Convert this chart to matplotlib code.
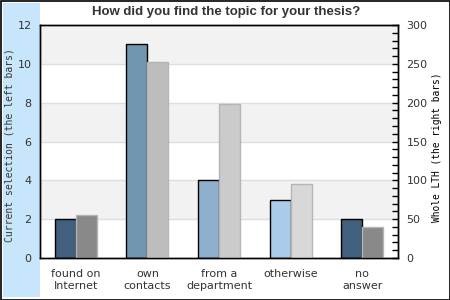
import matplotlib
matplotlib.use("Agg")
import matplotlib.pyplot as plt
import numpy as np
from matplotlib.patches import Rectangle
from matplotlib.ticker import MultipleLocator

categories = ["found on\nInternet", "own\ncontacts", "from a\ndepartment", "otherwise", "no\nanswer"]
current_selection = [2, 11, 4, 3, 2]
whole_lth = [55, 253, 198, 95, 40]
left_colors = ["#41607d", "#7396b0", "#8fb0cc", "#abcce8", "#41607d"]
right_colors = ["#898989", "#bdbdbd", "#cbcbcb", "#d8d8d8", "#898989"]

W, H = 450, 300
fig = plt.figure(figsize=(4.5, 3.0), dpi=100)
fig.patch.set_facecolor("white")
# left blue band and border
fig.add_artist(Rectangle((3/W, 3/H), 37/W, 294/H, transform=fig.transFigure,
                         facecolor="#c8e6fb", edgecolor="none", zorder=0))
fig.add_artist(Rectangle((0.5/W, 0.5/H), 449/W, 299/H, transform=fig.transFigure,
                         facecolor="none", edgecolor="black", lw=1.2, zorder=10))

ax = fig.add_axes([40/W, 42/H, 358/W, 233/H])
ax.set_facecolor("white")
ax.set_ylim(0, 12)
ax.set_xlim(-0.5, len(categories) - 0.5)
for lo in range(2, 12, 4):
    ax.axhspan(lo, lo + 2, color="#f2f2f2", zorder=0, lw=0)
for y in range(2, 12, 2):
    ax.axhline(y, color="#dedede", lw=1, zorder=0.5)

x = np.arange(len(categories))
w = 0.293
ax.bar(x - w/2, current_selection, width=w, color=left_colors, edgecolor="black", lw=1, zorder=2)
ax.set_yticks(range(0, 13, 2))
ax.tick_params(axis="y", length=0, pad=6, labelsize=8, labelcolor="#333333")
ax.set_xticks(x)
ax.set_xticklabels(categories, fontsize=8, color="#333333", linespacing=1.2)
ax.tick_params(axis="x", length=0, pad=8)
for s in ax.spines.values():
    s.set_linewidth(1)
    s.set_color("black")

ax2 = ax.twinx()
ax2.set_ylim(0, 300)
ax2.bar(x + w/2, whole_lth, width=w, color=right_colors, edgecolor="#b5b5b5", lw=1, zorder=2)
ax2.yaxis.set_major_locator(MultipleLocator(50))
ax2.yaxis.set_minor_locator(MultipleLocator(10))
ax2.tick_params(axis="y", which="both", direction="in", length=4, width=1, pad=6,
                labelsize=8, labelcolor="#333333")
for s in ax2.spines.values():
    s.set_linewidth(1)

fig.text(10/W, 1 - 145/H, "Current selection (the left bars)", rotation=90, ha="center", va="center",
         family="DejaVu Sans Mono", fontsize=7.0, color="#333333")
fig.text(437/W, 1 - 147/H, "Whole LTH (the right bars)", rotation=90, ha="center", va="center",
         family="DejaVu Sans Mono", fontsize=6.9, color="black")

fig.text(226/W, 1 - 12/H, "How did you find the topic for your thesis?", ha="center", va="center",
         family="Liberation Sans", fontweight="bold", fontsize=9.5, color="#333333")

fig.savefig("out.png", dpi=100)
